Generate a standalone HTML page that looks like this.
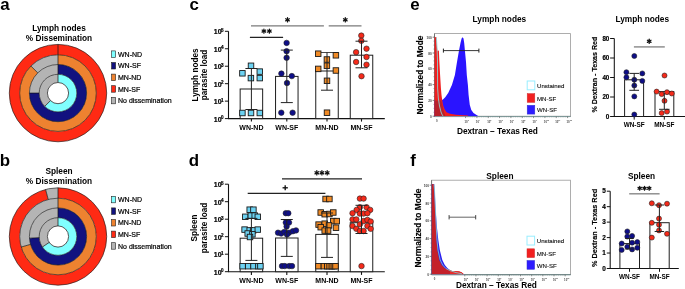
<!DOCTYPE html>
<html><head><meta charset="utf-8"><style>
html,body{margin:0;padding:0;background:#fff;width:685px;height:289px;overflow:hidden}
svg{display:block;will-change:transform}
text{font-family:"Liberation Sans", sans-serif}
</style></head><body>
<svg width="685" height="289" viewBox="0 0 685 289">
<rect width="685" height="289" fill="#fff"/>
<text x="0.3" y="9.6" font-size="15.8" font-weight="bold" text-anchor="start" fill="#000" textLength="9.40" lengthAdjust="spacingAndGlyphs">a</text>
<text x="59" y="30.8" font-size="8.3" font-weight="bold" text-anchor="middle" fill="#000">Lymph nodes</text>
<text x="59" y="40.6" font-size="8.3" font-weight="bold" text-anchor="middle" fill="#000">% Dissemination</text>
<path d="M9.299999999999997,93.1 a48.7,48.7 0 1 0 97.4,0 a48.7,48.7 0 1 0 -97.4,0 Z M19.700000000000003,93.1 a38.3,38.3 0 1 0 76.6,0 a38.3,38.3 0 1 0 -76.6,0 Z" fill="#FF2A14" fill-rule="evenodd"/>
<path d="M58.00,54.80 A38.3,38.3 0 1 1 30.92,66.02 L37.78,72.88 A28.6,28.6 0 1 0 58.00,64.50 Z" fill="#EE8230"/>
<path d="M30.92,66.02 A38.3,38.3 0 0 1 58.00,54.80 L58.00,64.50 A28.6,28.6 0 0 0 37.78,72.88 Z" fill="#B4B4B4"/>
<path d="M58.00,64.50 A28.6,28.6 0 1 1 29.40,93.10 L39.20,93.10 A18.8,18.8 0 1 0 58.00,74.30 Z" fill="#12127F"/>
<path d="M29.40,93.10 A28.6,28.6 0 0 1 58.00,64.50 L58.00,74.30 A18.8,18.8 0 0 0 39.20,93.10 Z" fill="#B4B4B4"/>
<path d="M58.00,74.30 A18.8,18.8 0 1 1 44.71,106.39 L50.50,100.60 A10.6,10.6 0 1 0 58.00,82.50 Z" fill="#80FFFF"/>
<path d="M44.71,106.39 A18.8,18.8 0 0 1 58.00,74.30 L58.00,82.50 A10.6,10.6 0 0 0 50.50,100.60 Z" fill="#B4B4B4"/>
<circle cx="58.0" cy="93.1" r="18.8" fill="none" stroke="#1a1a1a" stroke-width="0.65"/>
<circle cx="58.0" cy="93.1" r="28.6" fill="none" stroke="#1a1a1a" stroke-width="0.65"/>
<circle cx="58.0" cy="93.1" r="38.3" fill="none" stroke="#1a1a1a" stroke-width="0.65"/>
<circle cx="58.0" cy="93.1" r="48.7" fill="none" stroke="#1a1a1a" stroke-width="0.65"/>
<line x1="58.00" y1="54.80" x2="58.00" y2="44.40" stroke="#111" stroke-width="0.7"/>
<line x1="58.00" y1="64.50" x2="58.00" y2="54.80" stroke="#111" stroke-width="0.7"/>
<line x1="37.78" y1="72.88" x2="30.92" y2="66.02" stroke="#111" stroke-width="0.7"/>
<line x1="58.00" y1="74.30" x2="58.00" y2="64.50" stroke="#111" stroke-width="0.7"/>
<line x1="39.20" y1="93.10" x2="29.40" y2="93.10" stroke="#111" stroke-width="0.7"/>
<line x1="58.00" y1="82.50" x2="58.00" y2="74.30" stroke="#111" stroke-width="0.7"/>
<line x1="50.50" y1="100.60" x2="44.71" y2="106.39" stroke="#111" stroke-width="0.7"/>
<circle cx="58.0" cy="93.1" r="10.6" fill="#fff" stroke="#111" stroke-width="0.7"/>
<rect x="111.6" y="50.9" width="4.0" height="6.5" fill="#80FFFF" stroke="#222" stroke-width="0.6"/>
<text x="118.0" y="56.8" font-size="7" font-weight="normal" text-anchor="start" fill="#000" stroke="#000" stroke-width="0.2">WN-ND</text>
<rect x="111.6" y="62.5" width="4.0" height="6.5" fill="#12127F" stroke="#222" stroke-width="0.6"/>
<text x="118.0" y="68.4" font-size="7" font-weight="normal" text-anchor="start" fill="#000" stroke="#000" stroke-width="0.2">WN-SF</text>
<rect x="111.6" y="74.1" width="4.0" height="6.5" fill="#EE8230" stroke="#222" stroke-width="0.6"/>
<text x="118.0" y="80.0" font-size="7" font-weight="normal" text-anchor="start" fill="#000" stroke="#000" stroke-width="0.2">MN-ND</text>
<rect x="111.6" y="85.69999999999999" width="4.0" height="6.5" fill="#FF2A14" stroke="#222" stroke-width="0.6"/>
<text x="118.0" y="91.6" font-size="7" font-weight="normal" text-anchor="start" fill="#000" stroke="#000" stroke-width="0.2">MN-SF</text>
<rect x="111.6" y="97.3" width="4.0" height="6.5" fill="#B4B4B4" stroke="#222" stroke-width="0.6"/>
<text x="118.0" y="103.2" font-size="7" font-weight="normal" text-anchor="start" fill="#000" stroke="#000" stroke-width="0.2">No dissemination</text>
<text x="-0.3" y="165.5" font-size="15.8" font-weight="bold" text-anchor="start" fill="#000" textLength="10.33" lengthAdjust="spacingAndGlyphs">b</text>
<text x="59" y="174.2" font-size="8.3" font-weight="bold" text-anchor="middle" fill="#000">Spleen</text>
<text x="59" y="184.1" font-size="8.3" font-weight="bold" text-anchor="middle" fill="#000">% Dissemination</text>
<path d="M58.00,187.80 A48.7,48.7 0 1 1 45.56,189.42 L48.22,199.47 A38.3,38.3 0 1 0 58.00,198.20 Z" fill="#FF2A14"/>
<path d="M45.56,189.42 A48.7,48.7 0 0 1 58.00,187.80 L58.00,198.20 A38.3,38.3 0 0 0 48.22,199.47 Z" fill="#B4B4B4"/>
<path d="M58.00,198.20 A38.3,38.3 0 1 1 21.18,247.06 L30.51,244.38 A28.6,28.6 0 1 0 58.00,207.90 Z" fill="#EE8230"/>
<path d="M21.18,247.06 A38.3,38.3 0 0 1 58.00,198.20 L58.00,207.90 A28.6,28.6 0 0 0 30.51,244.38 Z" fill="#B4B4B4"/>
<path d="M58.00,207.90 A28.6,28.6 0 1 1 29.45,238.20 L39.23,237.61 A18.8,18.8 0 1 0 58.00,217.70 Z" fill="#12127F"/>
<path d="M29.45,238.20 A28.6,28.6 0 0 1 58.00,207.90 L58.00,217.70 A18.8,18.8 0 0 0 39.23,237.61 Z" fill="#B4B4B4"/>
<path d="M58.00,217.70 A18.8,18.8 0 1 1 42.41,247.01 L49.21,242.43 A10.6,10.6 0 1 0 58.00,225.90 Z" fill="#80FFFF"/>
<path d="M42.41,247.01 A18.8,18.8 0 0 1 58.00,217.70 L58.00,225.90 A10.6,10.6 0 0 0 49.21,242.43 Z" fill="#B4B4B4"/>
<circle cx="58.0" cy="236.5" r="18.8" fill="none" stroke="#1a1a1a" stroke-width="0.65"/>
<circle cx="58.0" cy="236.5" r="28.6" fill="none" stroke="#1a1a1a" stroke-width="0.65"/>
<circle cx="58.0" cy="236.5" r="38.3" fill="none" stroke="#1a1a1a" stroke-width="0.65"/>
<circle cx="58.0" cy="236.5" r="48.7" fill="none" stroke="#1a1a1a" stroke-width="0.65"/>
<line x1="58.00" y1="198.20" x2="58.00" y2="187.80" stroke="#111" stroke-width="0.7"/>
<line x1="48.22" y1="199.47" x2="45.56" y2="189.42" stroke="#111" stroke-width="0.7"/>
<line x1="58.00" y1="207.90" x2="58.00" y2="198.20" stroke="#111" stroke-width="0.7"/>
<line x1="30.51" y1="244.38" x2="21.18" y2="247.06" stroke="#111" stroke-width="0.7"/>
<line x1="58.00" y1="217.70" x2="58.00" y2="207.90" stroke="#111" stroke-width="0.7"/>
<line x1="39.23" y1="237.61" x2="29.45" y2="238.20" stroke="#111" stroke-width="0.7"/>
<line x1="58.00" y1="225.90" x2="58.00" y2="217.70" stroke="#111" stroke-width="0.7"/>
<line x1="49.21" y1="242.43" x2="42.41" y2="247.01" stroke="#111" stroke-width="0.7"/>
<circle cx="58.0" cy="236.5" r="10.6" fill="#fff" stroke="#111" stroke-width="0.7"/>
<rect x="111.6" y="196.3" width="4.0" height="6.5" fill="#80FFFF" stroke="#222" stroke-width="0.6"/>
<text x="118.0" y="202.20000000000002" font-size="7" font-weight="normal" text-anchor="start" fill="#000" stroke="#000" stroke-width="0.2">WN-ND</text>
<rect x="111.6" y="207.9" width="4.0" height="6.5" fill="#12127F" stroke="#222" stroke-width="0.6"/>
<text x="118.0" y="213.8" font-size="7" font-weight="normal" text-anchor="start" fill="#000" stroke="#000" stroke-width="0.2">WN-SF</text>
<rect x="111.6" y="219.5" width="4.0" height="6.5" fill="#EE8230" stroke="#222" stroke-width="0.6"/>
<text x="118.0" y="225.4" font-size="7" font-weight="normal" text-anchor="start" fill="#000" stroke="#000" stroke-width="0.2">MN-ND</text>
<rect x="111.6" y="231.10000000000002" width="4.0" height="6.5" fill="#FF2A14" stroke="#222" stroke-width="0.6"/>
<text x="118.0" y="237.00000000000003" font-size="7" font-weight="normal" text-anchor="start" fill="#000" stroke="#000" stroke-width="0.2">MN-SF</text>
<rect x="111.6" y="242.70000000000002" width="4.0" height="6.5" fill="#B4B4B4" stroke="#222" stroke-width="0.6"/>
<text x="118.0" y="248.60000000000002" font-size="7" font-weight="normal" text-anchor="start" fill="#000" stroke="#000" stroke-width="0.2">No dissemination</text>
<text x="189.5" y="9.6" font-size="15.8" font-weight="bold" text-anchor="start" fill="#000" textLength="9.40" lengthAdjust="spacingAndGlyphs">c</text>
<line x1="228.5" y1="31.299999999999983" x2="228.5" y2="118.6" stroke="#111" stroke-width="1.1"/>
<line x1="224.9" y1="118.6" x2="228.5" y2="118.6" stroke="#111" stroke-width="1.0"/>
<text x="221.6" y="121.5" font-size="7.0" font-weight="bold" text-anchor="end" fill="#000" stroke="#000" stroke-width="0.2">10</text>
<text x="221.1" y="119.0" font-size="4.6" font-weight="bold" text-anchor="start" fill="#000" stroke="#000" stroke-width="0.2">0</text>
<line x1="224.9" y1="101.13999999999999" x2="228.5" y2="101.13999999999999" stroke="#111" stroke-width="1.0"/>
<text x="221.6" y="104.03999999999999" font-size="7.0" font-weight="bold" text-anchor="end" fill="#000" stroke="#000" stroke-width="0.2">10</text>
<text x="221.1" y="101.53999999999999" font-size="4.6" font-weight="bold" text-anchor="start" fill="#000" stroke="#000" stroke-width="0.2">1</text>
<line x1="224.9" y1="83.67999999999999" x2="228.5" y2="83.67999999999999" stroke="#111" stroke-width="1.0"/>
<text x="221.6" y="86.58" font-size="7.0" font-weight="bold" text-anchor="end" fill="#000" stroke="#000" stroke-width="0.2">10</text>
<text x="221.1" y="84.08" font-size="4.6" font-weight="bold" text-anchor="start" fill="#000" stroke="#000" stroke-width="0.2">2</text>
<line x1="224.9" y1="66.22" x2="228.5" y2="66.22" stroke="#111" stroke-width="1.0"/>
<text x="221.6" y="69.12" font-size="7.0" font-weight="bold" text-anchor="end" fill="#000" stroke="#000" stroke-width="0.2">10</text>
<text x="221.1" y="66.62" font-size="4.6" font-weight="bold" text-anchor="start" fill="#000" stroke="#000" stroke-width="0.2">3</text>
<line x1="224.9" y1="48.75999999999999" x2="228.5" y2="48.75999999999999" stroke="#111" stroke-width="1.0"/>
<text x="221.6" y="51.65999999999999" font-size="7.0" font-weight="bold" text-anchor="end" fill="#000" stroke="#000" stroke-width="0.2">10</text>
<text x="221.1" y="49.15999999999999" font-size="4.6" font-weight="bold" text-anchor="start" fill="#000" stroke="#000" stroke-width="0.2">4</text>
<line x1="224.9" y1="31.299999999999983" x2="228.5" y2="31.299999999999983" stroke="#111" stroke-width="1.0"/>
<text x="221.6" y="34.19999999999998" font-size="7.0" font-weight="bold" text-anchor="end" fill="#000" stroke="#000" stroke-width="0.2">10</text>
<text x="221.1" y="31.69999999999998" font-size="4.6" font-weight="bold" text-anchor="start" fill="#000" stroke="#000" stroke-width="0.2">5</text>
<line x1="228.0" y1="118.6" x2="384.8" y2="118.6" stroke="#111" stroke-width="1.1"/>
<text x="197.7" y="74.94999999999999" font-size="8.2" font-weight="bold" text-anchor="middle" fill="#000" transform="rotate(-90 197.7 74.94999999999999)">Lymph nodes</text>
<text x="207.0" y="74.94999999999999" font-size="8.2" font-weight="bold" text-anchor="middle" fill="#000" transform="rotate(-90 207.0 74.94999999999999)">parasite load</text>
<line x1="251.4" y1="118.6" x2="251.4" y2="121.6" stroke="#111" stroke-width="1.1"/>
<text x="251.4" y="129.9" font-size="7" font-weight="bold" text-anchor="middle" fill="#000">WN-ND</text>
<line x1="286.8" y1="118.6" x2="286.8" y2="121.6" stroke="#111" stroke-width="1.1"/>
<text x="286.8" y="129.9" font-size="7" font-weight="bold" text-anchor="middle" fill="#000">WN-SF</text>
<line x1="327.0" y1="118.6" x2="327.0" y2="121.6" stroke="#111" stroke-width="1.1"/>
<text x="327.0" y="129.9" font-size="7" font-weight="bold" text-anchor="middle" fill="#000">MN-ND</text>
<line x1="361.5" y1="118.6" x2="361.5" y2="121.6" stroke="#111" stroke-width="1.1"/>
<text x="361.5" y="129.9" font-size="7" font-weight="bold" text-anchor="middle" fill="#000">MN-SF</text>
<rect x="240.15" y="89" width="22.5" height="29.599999999999994" fill="#fff" stroke="#1e1e1e" stroke-width="1.0"/>
<rect x="239.65" y="110.25" width="5.5" height="5.5" fill="#6CD2F2" stroke="#1a1a1a" stroke-width="0.9"/>
<rect x="248.25" y="110.25" width="5.5" height="5.5" fill="#6CD2F2" stroke="#1a1a1a" stroke-width="0.9"/>
<rect x="257.05" y="110.25" width="5.5" height="5.5" fill="#6CD2F2" stroke="#1a1a1a" stroke-width="0.9"/>
<rect x="248.25" y="63.05" width="5.5" height="5.5" fill="#6CD2F2" stroke="#1a1a1a" stroke-width="0.9"/>
<rect x="239.65" y="70.55" width="5.5" height="5.5" fill="#6CD2F2" stroke="#1a1a1a" stroke-width="0.9"/>
<rect x="248.15" y="75.35" width="5.5" height="5.5" fill="#6CD2F2" stroke="#1a1a1a" stroke-width="0.9"/>
<rect x="257.05" y="68.85" width="5.5" height="5.5" fill="#6CD2F2" stroke="#1a1a1a" stroke-width="0.9"/>
<rect x="257.05" y="75.35" width="5.5" height="5.5" fill="#6CD2F2" stroke="#1a1a1a" stroke-width="0.9"/>
<rect x="275.55" y="76.4" width="22.5" height="42.19999999999999" fill="#fff" stroke="#1e1e1e" stroke-width="1.0"/>
<circle cx="286.6" cy="42.9" r="2.75" fill="#0E0E88" stroke="#222" stroke-width="0.6"/>
<circle cx="286.6" cy="51.2" r="2.75" fill="#0E0E88" stroke="#222" stroke-width="0.6"/>
<circle cx="286.6" cy="57.8" r="2.75" fill="#0E0E88" stroke="#222" stroke-width="0.6"/>
<circle cx="281.4" cy="73.6" r="2.75" fill="#0E0E88" stroke="#222" stroke-width="0.6"/>
<circle cx="291.8" cy="76.1" r="2.75" fill="#0E0E88" stroke="#222" stroke-width="0.6"/>
<circle cx="287" cy="83" r="2.75" fill="#0E0E88" stroke="#222" stroke-width="0.6"/>
<circle cx="281.3" cy="112.7" r="2.75" fill="#0E0E88" stroke="#222" stroke-width="0.6"/>
<circle cx="292.6" cy="112.7" r="2.75" fill="#0E0E88" stroke="#222" stroke-width="0.6"/>
<rect x="315.75" y="71" width="22.5" height="47.599999999999994" fill="#fff" stroke="#1e1e1e" stroke-width="1.0"/>
<line x1="315.7" y1="52.5" x2="338.3" y2="52.5" stroke="#333" stroke-width="0.9"/>
<rect x="315.45" y="50.95" width="5.5" height="5.5" fill="#F08A25" stroke="#1a1a1a" stroke-width="0.9"/>
<rect x="333.15" y="52.55" width="5.5" height="5.5" fill="#F08A25" stroke="#1a1a1a" stroke-width="0.9"/>
<rect x="324.15" y="56.75" width="5.5" height="5.5" fill="#F08A25" stroke="#1a1a1a" stroke-width="0.9"/>
<rect x="324.15" y="62.95" width="5.5" height="5.5" fill="#F08A25" stroke="#1a1a1a" stroke-width="0.9"/>
<rect x="315.45" y="66.15" width="5.5" height="5.5" fill="#F08A25" stroke="#1a1a1a" stroke-width="0.9"/>
<rect x="333.15" y="67.75" width="5.5" height="5.5" fill="#F08A25" stroke="#1a1a1a" stroke-width="0.9"/>
<rect x="324.25" y="78.05" width="5.5" height="5.5" fill="#F08A25" stroke="#1a1a1a" stroke-width="0.9"/>
<rect x="324.25" y="109.95" width="5.5" height="5.5" fill="#F08A25" stroke="#1a1a1a" stroke-width="0.9"/>
<rect x="350.25" y="55.2" width="22.5" height="63.39999999999999" fill="#fff" stroke="#1e1e1e" stroke-width="1.0"/>
<circle cx="361.3" cy="35.6" r="2.75" fill="#F52A1A" stroke="#222" stroke-width="0.6"/>
<circle cx="361.3" cy="40.8" r="2.75" fill="#F52A1A" stroke="#222" stroke-width="0.6"/>
<circle cx="366.5" cy="48.7" r="2.75" fill="#F52A1A" stroke="#222" stroke-width="0.6"/>
<circle cx="356.1" cy="52.2" r="2.75" fill="#F52A1A" stroke="#222" stroke-width="0.6"/>
<circle cx="366.5" cy="57" r="2.75" fill="#F52A1A" stroke="#222" stroke-width="0.6"/>
<circle cx="356.1" cy="62" r="2.75" fill="#F52A1A" stroke="#222" stroke-width="0.6"/>
<circle cx="366.5" cy="64.7" r="2.75" fill="#F52A1A" stroke="#222" stroke-width="0.6"/>
<circle cx="361.5" cy="76.2" r="2.75" fill="#F52A1A" stroke="#222" stroke-width="0.6"/>
<line x1="251" y1="25.8" x2="323.9" y2="25.8" stroke="#7a7a7a" stroke-width="1.3"/>
<line x1="287.50" y1="17.73" x2="287.50" y2="21.88" stroke="#111" stroke-width="1.25" stroke-linecap="round"/>
<line x1="285.70" y1="18.76" x2="289.30" y2="20.84" stroke="#111" stroke-width="1.25" stroke-linecap="round"/>
<line x1="285.70" y1="20.84" x2="289.30" y2="18.76" stroke="#111" stroke-width="1.25" stroke-linecap="round"/>
<line x1="328.7" y1="25.8" x2="361.5" y2="25.8" stroke="#7a7a7a" stroke-width="1.3"/>
<line x1="345.30" y1="17.73" x2="345.30" y2="21.88" stroke="#111" stroke-width="1.25" stroke-linecap="round"/>
<line x1="343.50" y1="18.76" x2="347.10" y2="20.84" stroke="#111" stroke-width="1.25" stroke-linecap="round"/>
<line x1="343.50" y1="20.84" x2="347.10" y2="18.76" stroke="#111" stroke-width="1.25" stroke-linecap="round"/>
<line x1="249.9" y1="37.4" x2="283.1" y2="37.4" stroke="#222" stroke-width="1.1"/>
<line x1="263.90" y1="29.03" x2="263.90" y2="33.18" stroke="#111" stroke-width="1.25" stroke-linecap="round"/>
<line x1="262.10" y1="30.06" x2="265.70" y2="32.14" stroke="#111" stroke-width="1.25" stroke-linecap="round"/>
<line x1="262.10" y1="32.14" x2="265.70" y2="30.06" stroke="#111" stroke-width="1.25" stroke-linecap="round"/>
<line x1="269.40" y1="29.03" x2="269.40" y2="33.18" stroke="#111" stroke-width="1.25" stroke-linecap="round"/>
<line x1="267.60" y1="30.06" x2="271.20" y2="32.14" stroke="#111" stroke-width="1.25" stroke-linecap="round"/>
<line x1="267.60" y1="32.14" x2="271.20" y2="30.06" stroke="#111" stroke-width="1.25" stroke-linecap="round"/>
<text x="188.8" y="166.1" font-size="15.8" font-weight="bold" text-anchor="start" fill="#000" textLength="10.33" lengthAdjust="spacingAndGlyphs">d</text>
<line x1="228.5" y1="184.2" x2="228.5" y2="271.7" stroke="#111" stroke-width="1.1"/>
<line x1="224.9" y1="271.7" x2="228.5" y2="271.7" stroke="#111" stroke-width="1.0"/>
<text x="221.6" y="274.59999999999997" font-size="7.0" font-weight="bold" text-anchor="end" fill="#000" stroke="#000" stroke-width="0.2">10</text>
<text x="221.1" y="272.09999999999997" font-size="4.6" font-weight="bold" text-anchor="start" fill="#000" stroke="#000" stroke-width="0.2">0</text>
<line x1="224.9" y1="254.2" x2="228.5" y2="254.2" stroke="#111" stroke-width="1.0"/>
<text x="221.6" y="257.09999999999997" font-size="7.0" font-weight="bold" text-anchor="end" fill="#000" stroke="#000" stroke-width="0.2">10</text>
<text x="221.1" y="254.6" font-size="4.6" font-weight="bold" text-anchor="start" fill="#000" stroke="#000" stroke-width="0.2">1</text>
<line x1="224.9" y1="236.7" x2="228.5" y2="236.7" stroke="#111" stroke-width="1.0"/>
<text x="221.6" y="239.6" font-size="7.0" font-weight="bold" text-anchor="end" fill="#000" stroke="#000" stroke-width="0.2">10</text>
<text x="221.1" y="237.1" font-size="4.6" font-weight="bold" text-anchor="start" fill="#000" stroke="#000" stroke-width="0.2">2</text>
<line x1="224.9" y1="219.2" x2="228.5" y2="219.2" stroke="#111" stroke-width="1.0"/>
<text x="221.6" y="222.1" font-size="7.0" font-weight="bold" text-anchor="end" fill="#000" stroke="#000" stroke-width="0.2">10</text>
<text x="221.1" y="219.6" font-size="4.6" font-weight="bold" text-anchor="start" fill="#000" stroke="#000" stroke-width="0.2">3</text>
<line x1="224.9" y1="201.7" x2="228.5" y2="201.7" stroke="#111" stroke-width="1.0"/>
<text x="221.6" y="204.6" font-size="7.0" font-weight="bold" text-anchor="end" fill="#000" stroke="#000" stroke-width="0.2">10</text>
<text x="221.1" y="202.1" font-size="4.6" font-weight="bold" text-anchor="start" fill="#000" stroke="#000" stroke-width="0.2">4</text>
<line x1="224.9" y1="184.2" x2="228.5" y2="184.2" stroke="#111" stroke-width="1.0"/>
<text x="221.6" y="187.1" font-size="7.0" font-weight="bold" text-anchor="end" fill="#000" stroke="#000" stroke-width="0.2">10</text>
<text x="221.1" y="184.6" font-size="4.6" font-weight="bold" text-anchor="start" fill="#000" stroke="#000" stroke-width="0.2">5</text>
<line x1="228.0" y1="271.7" x2="384.8" y2="271.7" stroke="#111" stroke-width="1.1"/>
<text x="197.3" y="227.95" font-size="8.2" font-weight="bold" text-anchor="middle" fill="#000" transform="rotate(-90 197.3 227.95)">Spleen</text>
<text x="206.60000000000002" y="227.95" font-size="8.2" font-weight="bold" text-anchor="middle" fill="#000" transform="rotate(-90 206.60000000000002 227.95)">parasite load</text>
<line x1="251.4" y1="271.7" x2="251.4" y2="274.9" stroke="#111" stroke-width="1.1"/>
<text x="251.4" y="283.0" font-size="7" font-weight="bold" text-anchor="middle" fill="#000">WN-ND</text>
<line x1="286.8" y1="271.7" x2="286.8" y2="274.9" stroke="#111" stroke-width="1.1"/>
<text x="286.8" y="283.0" font-size="7" font-weight="bold" text-anchor="middle" fill="#000">WN-SF</text>
<line x1="327.0" y1="271.7" x2="327.0" y2="274.9" stroke="#111" stroke-width="1.1"/>
<text x="327.0" y="283.0" font-size="7" font-weight="bold" text-anchor="middle" fill="#000">MN-ND</text>
<line x1="361.5" y1="271.7" x2="361.5" y2="274.9" stroke="#111" stroke-width="1.1"/>
<text x="361.5" y="283.0" font-size="7" font-weight="bold" text-anchor="middle" fill="#000">MN-SF</text>
<rect x="240.15" y="238.2" width="22.5" height="33.5" fill="#fff" stroke="#1e1e1e" stroke-width="1.0"/>
<rect x="239.85" y="263.45" width="5.5" height="5.5" fill="#6CD2F2" stroke="#1a1a1a" stroke-width="0.9"/>
<rect x="245.45" y="263.45" width="5.5" height="5.5" fill="#6CD2F2" stroke="#1a1a1a" stroke-width="0.9"/>
<rect x="250.75" y="263.45" width="5.5" height="5.5" fill="#6CD2F2" stroke="#1a1a1a" stroke-width="0.9"/>
<rect x="255.64999999999998" y="263.45" width="5.5" height="5.5" fill="#6CD2F2" stroke="#1a1a1a" stroke-width="0.9"/>
<rect x="257.65" y="263.45" width="5.5" height="5.5" fill="#6CD2F2" stroke="#1a1a1a" stroke-width="0.9"/>
<rect x="246.95" y="206.95" width="5.5" height="5.5" fill="#6CD2F2" stroke="#1a1a1a" stroke-width="0.9"/>
<rect x="250.65" y="206.95" width="5.5" height="5.5" fill="#6CD2F2" stroke="#1a1a1a" stroke-width="0.9"/>
<rect x="242.55" y="214.05" width="5.5" height="5.5" fill="#6CD2F2" stroke="#1a1a1a" stroke-width="0.9"/>
<rect x="248.05" y="212.85" width="5.5" height="5.5" fill="#6CD2F2" stroke="#1a1a1a" stroke-width="0.9"/>
<rect x="251.95" y="212.85" width="5.5" height="5.5" fill="#6CD2F2" stroke="#1a1a1a" stroke-width="0.9"/>
<rect x="255.05" y="214.05" width="5.5" height="5.5" fill="#6CD2F2" stroke="#1a1a1a" stroke-width="0.9"/>
<rect x="241.85" y="226.85" width="5.5" height="5.5" fill="#6CD2F2" stroke="#1a1a1a" stroke-width="0.9"/>
<rect x="246.95" y="227.65" width="5.5" height="5.5" fill="#6CD2F2" stroke="#1a1a1a" stroke-width="0.9"/>
<rect x="250.35" y="227.65" width="5.5" height="5.5" fill="#6CD2F2" stroke="#1a1a1a" stroke-width="0.9"/>
<rect x="255.05" y="226.85" width="5.5" height="5.5" fill="#6CD2F2" stroke="#1a1a1a" stroke-width="0.9"/>
<rect x="244.95" y="230.75" width="5.5" height="5.5" fill="#6CD2F2" stroke="#1a1a1a" stroke-width="0.9"/>
<rect x="249.65" y="231.55" width="5.5" height="5.5" fill="#6CD2F2" stroke="#1a1a1a" stroke-width="0.9"/>
<rect x="247.25" y="234.25" width="5.5" height="5.5" fill="#6CD2F2" stroke="#1a1a1a" stroke-width="0.9"/>
<rect x="275.55" y="238.0" width="22.5" height="33.69999999999999" fill="#fff" stroke="#1e1e1e" stroke-width="1.0"/>
<circle cx="282.0" cy="266.1" r="2.75" fill="#0E0E88" stroke="#222" stroke-width="0.6"/>
<circle cx="284.8" cy="266.1" r="2.75" fill="#0E0E88" stroke="#222" stroke-width="0.6"/>
<circle cx="289.2" cy="266.1" r="2.75" fill="#0E0E88" stroke="#222" stroke-width="0.6"/>
<circle cx="292.0" cy="266.1" r="2.75" fill="#0E0E88" stroke="#222" stroke-width="0.6"/>
<circle cx="285.8" cy="213.2" r="2.75" fill="#0E0E88" stroke="#222" stroke-width="0.6"/>
<circle cx="288.3" cy="213.2" r="2.75" fill="#0E0E88" stroke="#222" stroke-width="0.6"/>
<circle cx="285.8" cy="222.6" r="2.75" fill="#0E0E88" stroke="#222" stroke-width="0.6"/>
<circle cx="289.0" cy="222.6" r="2.75" fill="#0E0E88" stroke="#222" stroke-width="0.6"/>
<circle cx="286.6" cy="226.5" r="2.75" fill="#0E0E88" stroke="#222" stroke-width="0.6"/>
<circle cx="278.0" cy="232.7" r="2.75" fill="#0E0E88" stroke="#222" stroke-width="0.6"/>
<circle cx="281.2" cy="233.5" r="2.75" fill="#0E0E88" stroke="#222" stroke-width="0.6"/>
<circle cx="284.3" cy="231.9" r="2.75" fill="#0E0E88" stroke="#222" stroke-width="0.6"/>
<circle cx="289.0" cy="232.7" r="2.75" fill="#0E0E88" stroke="#222" stroke-width="0.6"/>
<circle cx="292.9" cy="231.2" r="2.75" fill="#0E0E88" stroke="#222" stroke-width="0.6"/>
<circle cx="296.0" cy="230.4" r="2.75" fill="#0E0E88" stroke="#222" stroke-width="0.6"/>
<circle cx="287.0" cy="234.5" r="2.75" fill="#0E0E88" stroke="#222" stroke-width="0.6"/>
<rect x="315.75" y="234.4" width="22.5" height="37.29999999999998" fill="#fff" stroke="#1e1e1e" stroke-width="1.0"/>
<rect x="315.65" y="263.45" width="5.5" height="5.5" fill="#F08A25" stroke="#1a1a1a" stroke-width="0.9"/>
<rect x="321.15" y="263.45" width="5.5" height="5.5" fill="#F08A25" stroke="#1a1a1a" stroke-width="0.9"/>
<rect x="324.45" y="263.45" width="5.5" height="5.5" fill="#F08A25" stroke="#1a1a1a" stroke-width="0.9"/>
<rect x="326.85" y="263.45" width="5.5" height="5.5" fill="#F08A25" stroke="#1a1a1a" stroke-width="0.9"/>
<rect x="329.05" y="263.45" width="5.5" height="5.5" fill="#F08A25" stroke="#1a1a1a" stroke-width="0.9"/>
<rect x="331.05" y="263.45" width="5.5" height="5.5" fill="#F08A25" stroke="#1a1a1a" stroke-width="0.9"/>
<rect x="332.75" y="263.45" width="5.5" height="5.5" fill="#F08A25" stroke="#1a1a1a" stroke-width="0.9"/>
<rect x="322.85" y="196.25" width="5.5" height="5.5" fill="#F08A25" stroke="#1a1a1a" stroke-width="0.9"/>
<rect x="326.65" y="196.25" width="5.5" height="5.5" fill="#F08A25" stroke="#1a1a1a" stroke-width="0.9"/>
<rect x="317.95" y="209.75" width="5.5" height="5.5" fill="#F08A25" stroke="#1a1a1a" stroke-width="0.9"/>
<rect x="321.95" y="211.45" width="5.5" height="5.5" fill="#F08A25" stroke="#1a1a1a" stroke-width="0.9"/>
<rect x="326.65" y="211.25" width="5.5" height="5.5" fill="#F08A25" stroke="#1a1a1a" stroke-width="0.9"/>
<rect x="330.55" y="209.75" width="5.5" height="5.5" fill="#F08A25" stroke="#1a1a1a" stroke-width="0.9"/>
<rect x="330.55" y="218.35" width="5.5" height="5.5" fill="#F08A25" stroke="#1a1a1a" stroke-width="0.9"/>
<rect x="334.05" y="218.35" width="5.5" height="5.5" fill="#F08A25" stroke="#1a1a1a" stroke-width="0.9"/>
<rect x="315.85" y="221.85" width="5.5" height="5.5" fill="#F08A25" stroke="#1a1a1a" stroke-width="0.9"/>
<rect x="321.95" y="220.95" width="5.5" height="5.5" fill="#F08A25" stroke="#1a1a1a" stroke-width="0.9"/>
<rect x="326.25" y="222.65" width="5.5" height="5.5" fill="#F08A25" stroke="#1a1a1a" stroke-width="0.9"/>
<rect x="333.25" y="224.95" width="5.5" height="5.5" fill="#F08A25" stroke="#1a1a1a" stroke-width="0.9"/>
<rect x="317.95" y="224.45" width="5.5" height="5.5" fill="#F08A25" stroke="#1a1a1a" stroke-width="0.9"/>
<rect x="321.95" y="227.85" width="5.5" height="5.5" fill="#F08A25" stroke="#1a1a1a" stroke-width="0.9"/>
<rect x="325.35" y="227.85" width="5.5" height="5.5" fill="#F08A25" stroke="#1a1a1a" stroke-width="0.9"/>
<rect x="350.25" y="222.7" width="22.5" height="49.0" fill="#fff" stroke="#1e1e1e" stroke-width="1.0"/>
<circle cx="359.9" cy="198.6" r="2.75" fill="#F52A1A" stroke="#222" stroke-width="0.6"/>
<circle cx="363.6" cy="198.6" r="2.75" fill="#F52A1A" stroke="#222" stroke-width="0.6"/>
<circle cx="361.5" cy="266.1" r="2.75" fill="#F52A1A" stroke="#222" stroke-width="0.6"/>
<circle cx="359.9" cy="207.3" r="2.75" fill="#F52A1A" stroke="#222" stroke-width="0.6"/>
<circle cx="366.6" cy="207.3" r="2.75" fill="#F52A1A" stroke="#222" stroke-width="0.6"/>
<circle cx="356.6" cy="209.9" r="2.75" fill="#F52A1A" stroke="#222" stroke-width="0.6"/>
<circle cx="370.2" cy="209.9" r="2.75" fill="#F52A1A" stroke="#222" stroke-width="0.6"/>
<circle cx="352.5" cy="213.2" r="2.75" fill="#F52A1A" stroke="#222" stroke-width="0.6"/>
<circle cx="359.9" cy="213.6" r="2.75" fill="#F52A1A" stroke="#222" stroke-width="0.6"/>
<circle cx="363.6" cy="213.6" r="2.75" fill="#F52A1A" stroke="#222" stroke-width="0.6"/>
<circle cx="367.4" cy="213.2" r="2.75" fill="#F52A1A" stroke="#222" stroke-width="0.6"/>
<circle cx="352.5" cy="219.4" r="2.75" fill="#F52A1A" stroke="#222" stroke-width="0.6"/>
<circle cx="356.3" cy="219.4" r="2.75" fill="#F52A1A" stroke="#222" stroke-width="0.6"/>
<circle cx="363.6" cy="221.0" r="2.75" fill="#F52A1A" stroke="#222" stroke-width="0.6"/>
<circle cx="367.4" cy="219.9" r="2.75" fill="#F52A1A" stroke="#222" stroke-width="0.6"/>
<circle cx="370.7" cy="221.5" r="2.75" fill="#F52A1A" stroke="#222" stroke-width="0.6"/>
<circle cx="352.5" cy="226.0" r="2.75" fill="#F52A1A" stroke="#222" stroke-width="0.6"/>
<circle cx="359.9" cy="224.3" r="2.75" fill="#F52A1A" stroke="#222" stroke-width="0.6"/>
<circle cx="367.4" cy="226.0" r="2.75" fill="#F52A1A" stroke="#222" stroke-width="0.6"/>
<circle cx="356.3" cy="228.8" r="2.75" fill="#F52A1A" stroke="#222" stroke-width="0.6"/>
<circle cx="359.9" cy="231.0" r="2.75" fill="#F52A1A" stroke="#222" stroke-width="0.6"/>
<circle cx="363.6" cy="231.0" r="2.75" fill="#F52A1A" stroke="#222" stroke-width="0.6"/>
<circle cx="370.7" cy="228.8" r="2.75" fill="#F52A1A" stroke="#222" stroke-width="0.6"/>
<line x1="282" y1="178.8" x2="362" y2="178.8" stroke="#222" stroke-width="1.2"/>
<line x1="316.80" y1="170.73" x2="316.80" y2="174.88" stroke="#111" stroke-width="1.25" stroke-linecap="round"/>
<line x1="315.00" y1="171.76" x2="318.60" y2="173.84" stroke="#111" stroke-width="1.25" stroke-linecap="round"/>
<line x1="315.00" y1="173.84" x2="318.60" y2="171.76" stroke="#111" stroke-width="1.25" stroke-linecap="round"/>
<line x1="321.90" y1="170.73" x2="321.90" y2="174.88" stroke="#111" stroke-width="1.25" stroke-linecap="round"/>
<line x1="320.10" y1="171.76" x2="323.70" y2="173.84" stroke="#111" stroke-width="1.25" stroke-linecap="round"/>
<line x1="320.10" y1="173.84" x2="323.70" y2="171.76" stroke="#111" stroke-width="1.25" stroke-linecap="round"/>
<line x1="327.20" y1="170.73" x2="327.20" y2="174.88" stroke="#111" stroke-width="1.25" stroke-linecap="round"/>
<line x1="325.40" y1="171.76" x2="329.00" y2="173.84" stroke="#111" stroke-width="1.25" stroke-linecap="round"/>
<line x1="325.40" y1="173.84" x2="329.00" y2="171.76" stroke="#111" stroke-width="1.25" stroke-linecap="round"/>
<line x1="247.7" y1="193.3" x2="325.4" y2="193.3" stroke="#222" stroke-width="1.2"/>
<line x1="282.55" y1="187.8" x2="287.85" y2="187.8" stroke="#111" stroke-width="1.35"/>
<line x1="285.2" y1="185.35" x2="285.2" y2="190.25" stroke="#111" stroke-width="1.35"/>
<text x="410.2" y="9.6" font-size="15.8" font-weight="bold" text-anchor="start" fill="#000" textLength="9.40" lengthAdjust="spacingAndGlyphs">e</text>
<rect x="434.5" y="33.6" width="136.0" height="82.80000000000001" fill="none" stroke="#999" stroke-width="0.8"/>
<line x1="434.5" y1="33.6" x2="434.5" y2="116.4" stroke="#666" stroke-width="0.8"/>
<line x1="434.5" y1="116.4" x2="570.5" y2="116.4" stroke="#444" stroke-width="0.9"/>
<text x="431.9" y="38.800000000000004" font-size="3.2" font-weight="bold" text-anchor="end" fill="#444">100</text>
<line x1="432.5" y1="37.2" x2="434.5" y2="37.2" stroke="#555" stroke-width="0.6"/>
<text x="431.9" y="54.6" font-size="3.2" font-weight="bold" text-anchor="end" fill="#444">80</text>
<line x1="432.5" y1="53.0" x2="434.5" y2="53.0" stroke="#555" stroke-width="0.6"/>
<text x="431.9" y="70.4" font-size="3.2" font-weight="bold" text-anchor="end" fill="#444">60</text>
<line x1="432.5" y1="68.80000000000001" x2="434.5" y2="68.80000000000001" stroke="#555" stroke-width="0.6"/>
<text x="431.9" y="86.19999999999999" font-size="3.2" font-weight="bold" text-anchor="end" fill="#444">40</text>
<line x1="432.5" y1="84.6" x2="434.5" y2="84.6" stroke="#555" stroke-width="0.6"/>
<text x="431.9" y="102.0" font-size="3.2" font-weight="bold" text-anchor="end" fill="#444">20</text>
<line x1="432.5" y1="100.4" x2="434.5" y2="100.4" stroke="#555" stroke-width="0.6"/>
<text x="431.9" y="117.8" font-size="3.2" font-weight="bold" text-anchor="end" fill="#444">0</text>
<line x1="432.5" y1="116.2" x2="434.5" y2="116.2" stroke="#555" stroke-width="0.6"/>
<line x1="433.5" y1="37.2" x2="434.5" y2="37.2" stroke="#555" stroke-width="0.5"/>
<line x1="433.5" y1="41.150000000000006" x2="434.5" y2="41.150000000000006" stroke="#555" stroke-width="0.5"/>
<line x1="433.5" y1="45.1" x2="434.5" y2="45.1" stroke="#555" stroke-width="0.5"/>
<line x1="433.5" y1="49.050000000000004" x2="434.5" y2="49.050000000000004" stroke="#555" stroke-width="0.5"/>
<line x1="433.5" y1="53.0" x2="434.5" y2="53.0" stroke="#555" stroke-width="0.5"/>
<line x1="433.5" y1="56.95" x2="434.5" y2="56.95" stroke="#555" stroke-width="0.5"/>
<line x1="433.5" y1="60.900000000000006" x2="434.5" y2="60.900000000000006" stroke="#555" stroke-width="0.5"/>
<line x1="433.5" y1="64.85" x2="434.5" y2="64.85" stroke="#555" stroke-width="0.5"/>
<line x1="433.5" y1="68.80000000000001" x2="434.5" y2="68.80000000000001" stroke="#555" stroke-width="0.5"/>
<line x1="433.5" y1="72.75" x2="434.5" y2="72.75" stroke="#555" stroke-width="0.5"/>
<line x1="433.5" y1="76.7" x2="434.5" y2="76.7" stroke="#555" stroke-width="0.5"/>
<line x1="433.5" y1="80.65" x2="434.5" y2="80.65" stroke="#555" stroke-width="0.5"/>
<line x1="433.5" y1="84.6" x2="434.5" y2="84.6" stroke="#555" stroke-width="0.5"/>
<line x1="433.5" y1="88.55000000000001" x2="434.5" y2="88.55000000000001" stroke="#555" stroke-width="0.5"/>
<line x1="433.5" y1="92.5" x2="434.5" y2="92.5" stroke="#555" stroke-width="0.5"/>
<line x1="433.5" y1="96.45" x2="434.5" y2="96.45" stroke="#555" stroke-width="0.5"/>
<line x1="433.5" y1="100.4" x2="434.5" y2="100.4" stroke="#555" stroke-width="0.5"/>
<line x1="433.5" y1="104.35000000000001" x2="434.5" y2="104.35000000000001" stroke="#555" stroke-width="0.5"/>
<line x1="433.5" y1="108.3" x2="434.5" y2="108.3" stroke="#555" stroke-width="0.5"/>
<line x1="433.5" y1="112.25" x2="434.5" y2="112.25" stroke="#555" stroke-width="0.5"/>
<line x1="433.5" y1="116.2" x2="434.5" y2="116.2" stroke="#555" stroke-width="0.5"/>
<text x="472.6" y="22.4" font-size="8.3" font-weight="bold" text-anchor="start" fill="#000">Lymph nodes</text>
<polygon points="434.60,116.40 434.60,100.40 442.70,99.80 445.20,97.30 448.20,93.00 451.90,85.00 454.90,75.00 457.00,62.00 459.00,50.60 460.50,43.00 461.60,38.60 462.60,37.30 463.50,38.40 464.20,43.00 464.90,50.60 466.00,62.00 466.80,75.00 467.90,85.00 468.60,95.00 469.80,105.00 471.30,110.00 473.50,113.00 477.30,115.60 479.00,116.40" fill="#2A14FF" />
<clipPath id="cre"><polygon points="434.60,116.40 434.60,37.20 436.30,37.10 437.00,47.50 437.40,51.50 437.90,50.50 438.90,50.70 439.30,60.00 440.10,75.00 440.90,88.00 441.50,95.00 442.20,100.00 443.00,105.00 444.50,109.00 446.50,112.30 450.00,113.80 456.00,114.80 468.00,115.60 468.50,116.40"/></clipPath>
<polygon points="434.60,116.40 434.60,37.20 436.30,37.10 437.00,47.50 437.40,51.50 437.90,50.50 438.90,50.70 439.30,60.00 440.10,75.00 440.90,88.00 441.50,95.00 442.20,100.00 443.00,105.00 444.50,109.00 446.50,112.30 450.00,113.80 456.00,114.80 468.00,115.60 468.50,116.40" fill="#F01E1E" />
<polygon points="434,100.4 441.2,100.4 442.6,106 443.8,111 445.5,116.4 434,116.4" fill="#B9202A" clip-path="url(#cre)"/>
<polyline points="436.40,37.50 437.00,48.00 437.50,60.00 437.60,88.00 438.30,98.00 439.50,106.00 441.00,112.00 442.50,115.50 443.50,116.20" fill="none" stroke="#8CCFD0" stroke-width="0.9"/>
<line x1="443.4" y1="50.6" x2="478.9" y2="50.6" stroke="#222" stroke-width="0.9"/>
<line x1="443.4" y1="48.6" x2="443.4" y2="52.6" stroke="#222" stroke-width="1.0"/>
<line x1="478.9" y1="48.6" x2="478.9" y2="52.6" stroke="#222" stroke-width="1.0"/>
<line x1="434.6" y1="116.6" x2="570.5" y2="116.6" stroke="#8aa" stroke-width="0.9"/>
<text x="436.8" y="121.6" font-size="2.8" font-weight="bold" text-anchor="middle" fill="#444">0</text>
<line x1="465.6" y1="116.6" x2="465.6" y2="118.1" stroke="#444" stroke-width="0.6"/>
<text x="466.1" y="122.5" font-size="2.8" font-weight="bold" text-anchor="middle" fill="#444">10</text>
<text x="467.70000000000005" y="120.69999999999999" font-size="1.9" font-weight="bold" text-anchor="start" fill="#444">3</text>
<line x1="467.86600000000004" y1="116.6" x2="467.86600000000004" y2="117.39999999999999" stroke="#777" stroke-width="0.4"/>
<line x1="470.132" y1="116.6" x2="470.132" y2="117.39999999999999" stroke="#777" stroke-width="0.4"/>
<line x1="472.398" y1="116.6" x2="472.398" y2="117.39999999999999" stroke="#777" stroke-width="0.4"/>
<line x1="474.664" y1="116.6" x2="474.664" y2="117.39999999999999" stroke="#777" stroke-width="0.4"/>
<line x1="476.93" y1="116.6" x2="476.93" y2="118.1" stroke="#444" stroke-width="0.6"/>
<text x="477.43" y="122.5" font-size="2.8" font-weight="bold" text-anchor="middle" fill="#444">10</text>
<text x="479.03000000000003" y="120.69999999999999" font-size="1.9" font-weight="bold" text-anchor="start" fill="#444">4</text>
<line x1="479.196" y1="116.6" x2="479.196" y2="117.39999999999999" stroke="#777" stroke-width="0.4"/>
<line x1="481.462" y1="116.6" x2="481.462" y2="117.39999999999999" stroke="#777" stroke-width="0.4"/>
<line x1="483.728" y1="116.6" x2="483.728" y2="117.39999999999999" stroke="#777" stroke-width="0.4"/>
<line x1="485.99399999999997" y1="116.6" x2="485.99399999999997" y2="117.39999999999999" stroke="#777" stroke-width="0.4"/>
<line x1="488.26000000000005" y1="116.6" x2="488.26000000000005" y2="118.1" stroke="#444" stroke-width="0.6"/>
<text x="488.76000000000005" y="122.5" font-size="2.8" font-weight="bold" text-anchor="middle" fill="#444">10</text>
<text x="490.36000000000007" y="120.69999999999999" font-size="1.9" font-weight="bold" text-anchor="start" fill="#444">5</text>
<line x1="490.52600000000007" y1="116.6" x2="490.52600000000007" y2="117.39999999999999" stroke="#777" stroke-width="0.4"/>
<line x1="492.79200000000003" y1="116.6" x2="492.79200000000003" y2="117.39999999999999" stroke="#777" stroke-width="0.4"/>
<line x1="495.05800000000005" y1="116.6" x2="495.05800000000005" y2="117.39999999999999" stroke="#777" stroke-width="0.4"/>
<line x1="497.324" y1="116.6" x2="497.324" y2="117.39999999999999" stroke="#777" stroke-width="0.4"/>
<line x1="499.59000000000003" y1="116.6" x2="499.59000000000003" y2="118.1" stroke="#444" stroke-width="0.6"/>
<text x="500.09000000000003" y="122.5" font-size="2.8" font-weight="bold" text-anchor="middle" fill="#444">10</text>
<text x="501.69000000000005" y="120.69999999999999" font-size="1.9" font-weight="bold" text-anchor="start" fill="#444">6</text>
<line x1="501.85600000000005" y1="116.6" x2="501.85600000000005" y2="117.39999999999999" stroke="#777" stroke-width="0.4"/>
<line x1="504.122" y1="116.6" x2="504.122" y2="117.39999999999999" stroke="#777" stroke-width="0.4"/>
<line x1="506.38800000000003" y1="116.6" x2="506.38800000000003" y2="117.39999999999999" stroke="#777" stroke-width="0.4"/>
<line x1="508.654" y1="116.6" x2="508.654" y2="117.39999999999999" stroke="#777" stroke-width="0.4"/>
<line x1="510.92" y1="116.6" x2="510.92" y2="118.1" stroke="#444" stroke-width="0.6"/>
<text x="511.42" y="122.5" font-size="2.8" font-weight="bold" text-anchor="middle" fill="#444">10</text>
<text x="513.02" y="120.69999999999999" font-size="1.9" font-weight="bold" text-anchor="start" fill="#444">7</text>
<line x1="513.186" y1="116.6" x2="513.186" y2="117.39999999999999" stroke="#777" stroke-width="0.4"/>
<line x1="515.452" y1="116.6" x2="515.452" y2="117.39999999999999" stroke="#777" stroke-width="0.4"/>
<line x1="517.718" y1="116.6" x2="517.718" y2="117.39999999999999" stroke="#777" stroke-width="0.4"/>
<line x1="519.984" y1="116.6" x2="519.984" y2="117.39999999999999" stroke="#777" stroke-width="0.4"/>
<line x1="522.25" y1="116.6" x2="522.25" y2="118.1" stroke="#444" stroke-width="0.6"/>
<text x="522.75" y="122.5" font-size="2.8" font-weight="bold" text-anchor="middle" fill="#444">10</text>
<text x="524.35" y="120.69999999999999" font-size="1.9" font-weight="bold" text-anchor="start" fill="#444">8</text>
<line x1="524.516" y1="116.6" x2="524.516" y2="117.39999999999999" stroke="#777" stroke-width="0.4"/>
<line x1="526.782" y1="116.6" x2="526.782" y2="117.39999999999999" stroke="#777" stroke-width="0.4"/>
<line x1="529.048" y1="116.6" x2="529.048" y2="117.39999999999999" stroke="#777" stroke-width="0.4"/>
<line x1="531.314" y1="116.6" x2="531.314" y2="117.39999999999999" stroke="#777" stroke-width="0.4"/>
<line x1="533.58" y1="116.6" x2="533.58" y2="118.1" stroke="#444" stroke-width="0.6"/>
<text x="534.08" y="122.5" font-size="2.8" font-weight="bold" text-anchor="middle" fill="#444">10</text>
<text x="535.6800000000001" y="120.69999999999999" font-size="1.9" font-weight="bold" text-anchor="start" fill="#444">9</text>
<line x1="535.846" y1="116.6" x2="535.846" y2="117.39999999999999" stroke="#777" stroke-width="0.4"/>
<line x1="538.1120000000001" y1="116.6" x2="538.1120000000001" y2="117.39999999999999" stroke="#777" stroke-width="0.4"/>
<line x1="540.378" y1="116.6" x2="540.378" y2="117.39999999999999" stroke="#777" stroke-width="0.4"/>
<line x1="542.644" y1="116.6" x2="542.644" y2="117.39999999999999" stroke="#777" stroke-width="0.4"/>
<line x1="544.9100000000001" y1="116.6" x2="544.9100000000001" y2="118.1" stroke="#444" stroke-width="0.6"/>
<text x="545.4100000000001" y="122.5" font-size="2.8" font-weight="bold" text-anchor="middle" fill="#444">10</text>
<text x="547.0100000000001" y="120.69999999999999" font-size="1.9" font-weight="bold" text-anchor="start" fill="#444">10</text>
<line x1="547.176" y1="116.6" x2="547.176" y2="117.39999999999999" stroke="#777" stroke-width="0.4"/>
<line x1="549.4420000000001" y1="116.6" x2="549.4420000000001" y2="117.39999999999999" stroke="#777" stroke-width="0.4"/>
<line x1="551.7080000000001" y1="116.6" x2="551.7080000000001" y2="117.39999999999999" stroke="#777" stroke-width="0.4"/>
<line x1="553.974" y1="116.6" x2="553.974" y2="117.39999999999999" stroke="#777" stroke-width="0.4"/>
<line x1="556.24" y1="116.6" x2="556.24" y2="118.1" stroke="#444" stroke-width="0.6"/>
<text x="556.74" y="122.5" font-size="2.8" font-weight="bold" text-anchor="middle" fill="#444">10</text>
<text x="558.34" y="120.69999999999999" font-size="1.9" font-weight="bold" text-anchor="start" fill="#444">11</text>
<line x1="558.506" y1="116.6" x2="558.506" y2="117.39999999999999" stroke="#777" stroke-width="0.4"/>
<line x1="560.772" y1="116.6" x2="560.772" y2="117.39999999999999" stroke="#777" stroke-width="0.4"/>
<line x1="563.038" y1="116.6" x2="563.038" y2="117.39999999999999" stroke="#777" stroke-width="0.4"/>
<line x1="565.304" y1="116.6" x2="565.304" y2="117.39999999999999" stroke="#777" stroke-width="0.4"/>
<line x1="567.57" y1="116.6" x2="567.57" y2="118.1" stroke="#444" stroke-width="0.6"/>
<text x="568.07" y="122.5" font-size="2.8" font-weight="bold" text-anchor="middle" fill="#444">10</text>
<text x="569.6700000000001" y="120.69999999999999" font-size="1.9" font-weight="bold" text-anchor="start" fill="#444">12</text>
<text x="422.9" y="75.1" font-size="8.3" font-weight="bold" text-anchor="middle" fill="#000" transform="rotate(-90 422.9 75.1)" stroke="#000" stroke-width="0.15">Normalized to Mode</text>
<text x="497.4" y="133.5" font-size="8.3" font-weight="bold" text-anchor="middle" fill="#000">Dextran – Texas Red</text>
<rect x="527.2" y="81.0" width="7.6" height="8.8" fill="#fff" stroke="#9EF" stroke-width="1.0"/>
<text x="537.0" y="88.0" font-size="6.1" font-weight="normal" text-anchor="start" fill="#111" stroke="#111" stroke-width="0.12">Unstained</text>
<rect x="527.2" y="93.6" width="7.6" height="8.8" fill="#F22020" stroke="#c33" stroke-width="0.5"/>
<text x="537.0" y="100.6" font-size="6.1" font-weight="normal" text-anchor="start" fill="#111" stroke="#111" stroke-width="0.12">MN-SF</text>
<rect x="527.2" y="105.3" width="7.6" height="8.8" fill="#2E1CFF" stroke="#33c" stroke-width="0.5"/>
<text x="537.0" y="112.3" font-size="6.1" font-weight="normal" text-anchor="start" fill="#111" stroke="#111" stroke-width="0.12">WN-SF</text>
<text x="410.3" y="165.5" font-size="15.8" font-weight="bold" text-anchor="start" fill="#000" textLength="5.63" lengthAdjust="spacingAndGlyphs">f</text>
<rect x="431.6" y="180.2" width="139.0" height="94.40000000000003" fill="none" stroke="#999" stroke-width="0.8"/>
<line x1="431.6" y1="180.2" x2="431.6" y2="274.6" stroke="#666" stroke-width="0.8"/>
<line x1="431.6" y1="274.6" x2="570.6" y2="274.6" stroke="#444" stroke-width="0.9"/>
<text x="429.0" y="186.79999999999998" font-size="3.2" font-weight="bold" text-anchor="end" fill="#444">100</text>
<line x1="429.6" y1="185.2" x2="431.6" y2="185.2" stroke="#555" stroke-width="0.6"/>
<text x="429.0" y="204.6" font-size="3.2" font-weight="bold" text-anchor="end" fill="#444">80</text>
<line x1="429.6" y1="203.0" x2="431.6" y2="203.0" stroke="#555" stroke-width="0.6"/>
<text x="429.0" y="222.39999999999998" font-size="3.2" font-weight="bold" text-anchor="end" fill="#444">60</text>
<line x1="429.6" y1="220.79999999999998" x2="431.6" y2="220.79999999999998" stroke="#555" stroke-width="0.6"/>
<text x="429.0" y="240.2" font-size="3.2" font-weight="bold" text-anchor="end" fill="#444">40</text>
<line x1="429.6" y1="238.6" x2="431.6" y2="238.6" stroke="#555" stroke-width="0.6"/>
<text x="429.0" y="258.0" font-size="3.2" font-weight="bold" text-anchor="end" fill="#444">20</text>
<line x1="429.6" y1="256.4" x2="431.6" y2="256.4" stroke="#555" stroke-width="0.6"/>
<text x="429.0" y="275.8" font-size="3.2" font-weight="bold" text-anchor="end" fill="#444">0</text>
<line x1="429.6" y1="274.2" x2="431.6" y2="274.2" stroke="#555" stroke-width="0.6"/>
<line x1="430.6" y1="185.2" x2="431.6" y2="185.2" stroke="#555" stroke-width="0.5"/>
<line x1="430.6" y1="189.64999999999998" x2="431.6" y2="189.64999999999998" stroke="#555" stroke-width="0.5"/>
<line x1="430.6" y1="194.1" x2="431.6" y2="194.1" stroke="#555" stroke-width="0.5"/>
<line x1="430.6" y1="198.54999999999998" x2="431.6" y2="198.54999999999998" stroke="#555" stroke-width="0.5"/>
<line x1="430.6" y1="203.0" x2="431.6" y2="203.0" stroke="#555" stroke-width="0.5"/>
<line x1="430.6" y1="207.45" x2="431.6" y2="207.45" stroke="#555" stroke-width="0.5"/>
<line x1="430.6" y1="211.89999999999998" x2="431.6" y2="211.89999999999998" stroke="#555" stroke-width="0.5"/>
<line x1="430.6" y1="216.35" x2="431.6" y2="216.35" stroke="#555" stroke-width="0.5"/>
<line x1="430.6" y1="220.79999999999998" x2="431.6" y2="220.79999999999998" stroke="#555" stroke-width="0.5"/>
<line x1="430.6" y1="225.25" x2="431.6" y2="225.25" stroke="#555" stroke-width="0.5"/>
<line x1="430.6" y1="229.7" x2="431.6" y2="229.7" stroke="#555" stroke-width="0.5"/>
<line x1="430.6" y1="234.14999999999998" x2="431.6" y2="234.14999999999998" stroke="#555" stroke-width="0.5"/>
<line x1="430.6" y1="238.6" x2="431.6" y2="238.6" stroke="#555" stroke-width="0.5"/>
<line x1="430.6" y1="243.04999999999998" x2="431.6" y2="243.04999999999998" stroke="#555" stroke-width="0.5"/>
<line x1="430.6" y1="247.5" x2="431.6" y2="247.5" stroke="#555" stroke-width="0.5"/>
<line x1="430.6" y1="251.95" x2="431.6" y2="251.95" stroke="#555" stroke-width="0.5"/>
<line x1="430.6" y1="256.4" x2="431.6" y2="256.4" stroke="#555" stroke-width="0.5"/>
<line x1="430.6" y1="260.85" x2="431.6" y2="260.85" stroke="#555" stroke-width="0.5"/>
<line x1="430.6" y1="265.29999999999995" x2="431.6" y2="265.29999999999995" stroke="#555" stroke-width="0.5"/>
<line x1="430.6" y1="269.75" x2="431.6" y2="269.75" stroke="#555" stroke-width="0.5"/>
<line x1="430.6" y1="274.2" x2="431.6" y2="274.2" stroke="#555" stroke-width="0.5"/>
<text x="486.3" y="178.8" font-size="8.3" font-weight="bold" text-anchor="start" fill="#000">Spleen</text>
<polygon points="431.80,274.60 431.80,184.30 434.20,184.10 434.80,192.00 435.30,203.00 436.00,215.00 437.00,228.00 438.30,240.00 439.80,250.00 442.30,260.00 444.80,265.00 447.30,268.00 449.80,270.00 452.50,271.50 456.00,272.50 462.00,273.60 465.00,274.60" fill="#2A1EF0" />
<polygon points="431.80,274.60 431.80,184.30 433.80,184.10 434.30,192.00 434.80,202.00 435.30,212.00 435.90,225.00 436.40,240.00 437.30,250.00 439.20,260.00 441.60,265.00 445.20,268.50 450.00,270.00 453.00,271.40 456.00,271.20 459.00,271.40 461.50,272.30 463.80,274.20 464.00,274.60" fill="#C4202A" />
<polygon points="450,270.4 453,271.2 456,271.0 459,271.3 461.5,272.3 463.8,274.2 450,274.2" fill="#E82A2A"/>
<polyline points="434.00,184.40 434.60,192.00 435.10,203.00 435.70,215.00 436.30,228.00 437.00,240.00 438.00,250.00 440.20,260.00 442.70,265.00 446.00,268.60 450.00,270.60 456.00,272.60 462.00,273.80" fill="none" stroke="#8CCFD0" stroke-width="0.8"/>
<line x1="449.1" y1="217.2" x2="475.7" y2="217.2" stroke="#555" stroke-width="0.9"/>
<line x1="449.1" y1="215.1" x2="449.1" y2="219.4" stroke="#444" stroke-width="1.0"/>
<line x1="475.7" y1="215.1" x2="475.7" y2="219.4" stroke="#444" stroke-width="1.0"/>
<line x1="431.6" y1="274.8" x2="570.6" y2="274.8" stroke="#8aa" stroke-width="0.9"/>
<text x="434.5" y="279.8" font-size="2.8" font-weight="bold" text-anchor="middle" fill="#444">0</text>
<line x1="464.8" y1="274.8" x2="464.8" y2="276.3" stroke="#444" stroke-width="0.6"/>
<text x="465.3" y="280.7" font-size="2.8" font-weight="bold" text-anchor="middle" fill="#444">10</text>
<text x="466.90000000000003" y="278.90000000000003" font-size="1.9" font-weight="bold" text-anchor="start" fill="#444">3</text>
<line x1="467.03000000000003" y1="274.8" x2="467.03000000000003" y2="275.6" stroke="#777" stroke-width="0.4"/>
<line x1="469.26" y1="274.8" x2="469.26" y2="275.6" stroke="#777" stroke-width="0.4"/>
<line x1="471.49" y1="274.8" x2="471.49" y2="275.6" stroke="#777" stroke-width="0.4"/>
<line x1="473.71999999999997" y1="274.8" x2="473.71999999999997" y2="275.6" stroke="#777" stroke-width="0.4"/>
<line x1="475.95" y1="274.8" x2="475.95" y2="276.3" stroke="#444" stroke-width="0.6"/>
<text x="476.45" y="280.7" font-size="2.8" font-weight="bold" text-anchor="middle" fill="#444">10</text>
<text x="478.05" y="278.90000000000003" font-size="1.9" font-weight="bold" text-anchor="start" fill="#444">4</text>
<line x1="478.18" y1="274.8" x2="478.18" y2="275.6" stroke="#777" stroke-width="0.4"/>
<line x1="480.40999999999997" y1="274.8" x2="480.40999999999997" y2="275.6" stroke="#777" stroke-width="0.4"/>
<line x1="482.64" y1="274.8" x2="482.64" y2="275.6" stroke="#777" stroke-width="0.4"/>
<line x1="484.86999999999995" y1="274.8" x2="484.86999999999995" y2="275.6" stroke="#777" stroke-width="0.4"/>
<line x1="487.1" y1="274.8" x2="487.1" y2="276.3" stroke="#444" stroke-width="0.6"/>
<text x="487.6" y="280.7" font-size="2.8" font-weight="bold" text-anchor="middle" fill="#444">10</text>
<text x="489.20000000000005" y="278.90000000000003" font-size="1.9" font-weight="bold" text-anchor="start" fill="#444">5</text>
<line x1="489.33000000000004" y1="274.8" x2="489.33000000000004" y2="275.6" stroke="#777" stroke-width="0.4"/>
<line x1="491.56" y1="274.8" x2="491.56" y2="275.6" stroke="#777" stroke-width="0.4"/>
<line x1="493.79" y1="274.8" x2="493.79" y2="275.6" stroke="#777" stroke-width="0.4"/>
<line x1="496.02" y1="274.8" x2="496.02" y2="275.6" stroke="#777" stroke-width="0.4"/>
<line x1="498.25" y1="274.8" x2="498.25" y2="276.3" stroke="#444" stroke-width="0.6"/>
<text x="498.75" y="280.7" font-size="2.8" font-weight="bold" text-anchor="middle" fill="#444">10</text>
<text x="500.35" y="278.90000000000003" font-size="1.9" font-weight="bold" text-anchor="start" fill="#444">6</text>
<line x1="500.48" y1="274.8" x2="500.48" y2="275.6" stroke="#777" stroke-width="0.4"/>
<line x1="502.71" y1="274.8" x2="502.71" y2="275.6" stroke="#777" stroke-width="0.4"/>
<line x1="504.94" y1="274.8" x2="504.94" y2="275.6" stroke="#777" stroke-width="0.4"/>
<line x1="507.16999999999996" y1="274.8" x2="507.16999999999996" y2="275.6" stroke="#777" stroke-width="0.4"/>
<line x1="509.40000000000003" y1="274.8" x2="509.40000000000003" y2="276.3" stroke="#444" stroke-width="0.6"/>
<text x="509.90000000000003" y="280.7" font-size="2.8" font-weight="bold" text-anchor="middle" fill="#444">10</text>
<text x="511.50000000000006" y="278.90000000000003" font-size="1.9" font-weight="bold" text-anchor="start" fill="#444">7</text>
<line x1="511.63000000000005" y1="274.8" x2="511.63000000000005" y2="275.6" stroke="#777" stroke-width="0.4"/>
<line x1="513.86" y1="274.8" x2="513.86" y2="275.6" stroke="#777" stroke-width="0.4"/>
<line x1="516.09" y1="274.8" x2="516.09" y2="275.6" stroke="#777" stroke-width="0.4"/>
<line x1="518.32" y1="274.8" x2="518.32" y2="275.6" stroke="#777" stroke-width="0.4"/>
<line x1="520.55" y1="274.8" x2="520.55" y2="276.3" stroke="#444" stroke-width="0.6"/>
<text x="521.05" y="280.7" font-size="2.8" font-weight="bold" text-anchor="middle" fill="#444">10</text>
<text x="522.65" y="278.90000000000003" font-size="1.9" font-weight="bold" text-anchor="start" fill="#444">8</text>
<line x1="522.78" y1="274.8" x2="522.78" y2="275.6" stroke="#777" stroke-width="0.4"/>
<line x1="525.01" y1="274.8" x2="525.01" y2="275.6" stroke="#777" stroke-width="0.4"/>
<line x1="527.2399999999999" y1="274.8" x2="527.2399999999999" y2="275.6" stroke="#777" stroke-width="0.4"/>
<line x1="529.4699999999999" y1="274.8" x2="529.4699999999999" y2="275.6" stroke="#777" stroke-width="0.4"/>
<line x1="531.7" y1="274.8" x2="531.7" y2="276.3" stroke="#444" stroke-width="0.6"/>
<text x="532.2" y="280.7" font-size="2.8" font-weight="bold" text-anchor="middle" fill="#444">10</text>
<text x="533.8000000000001" y="278.90000000000003" font-size="1.9" font-weight="bold" text-anchor="start" fill="#444">9</text>
<line x1="533.9300000000001" y1="274.8" x2="533.9300000000001" y2="275.6" stroke="#777" stroke-width="0.4"/>
<line x1="536.1600000000001" y1="274.8" x2="536.1600000000001" y2="275.6" stroke="#777" stroke-width="0.4"/>
<line x1="538.39" y1="274.8" x2="538.39" y2="275.6" stroke="#777" stroke-width="0.4"/>
<line x1="540.62" y1="274.8" x2="540.62" y2="275.6" stroke="#777" stroke-width="0.4"/>
<line x1="542.85" y1="274.8" x2="542.85" y2="276.3" stroke="#444" stroke-width="0.6"/>
<text x="543.35" y="280.7" font-size="2.8" font-weight="bold" text-anchor="middle" fill="#444">10</text>
<text x="544.95" y="278.90000000000003" font-size="1.9" font-weight="bold" text-anchor="start" fill="#444">10</text>
<line x1="545.08" y1="274.8" x2="545.08" y2="275.6" stroke="#777" stroke-width="0.4"/>
<line x1="547.3100000000001" y1="274.8" x2="547.3100000000001" y2="275.6" stroke="#777" stroke-width="0.4"/>
<line x1="549.54" y1="274.8" x2="549.54" y2="275.6" stroke="#777" stroke-width="0.4"/>
<line x1="551.77" y1="274.8" x2="551.77" y2="275.6" stroke="#777" stroke-width="0.4"/>
<line x1="554.0" y1="274.8" x2="554.0" y2="276.3" stroke="#444" stroke-width="0.6"/>
<text x="554.5" y="280.7" font-size="2.8" font-weight="bold" text-anchor="middle" fill="#444">10</text>
<text x="556.1" y="278.90000000000003" font-size="1.9" font-weight="bold" text-anchor="start" fill="#444">11</text>
<line x1="556.23" y1="274.8" x2="556.23" y2="275.6" stroke="#777" stroke-width="0.4"/>
<line x1="558.46" y1="274.8" x2="558.46" y2="275.6" stroke="#777" stroke-width="0.4"/>
<line x1="560.6899999999999" y1="274.8" x2="560.6899999999999" y2="275.6" stroke="#777" stroke-width="0.4"/>
<line x1="562.92" y1="274.8" x2="562.92" y2="275.6" stroke="#777" stroke-width="0.4"/>
<line x1="565.15" y1="274.8" x2="565.15" y2="276.3" stroke="#444" stroke-width="0.6"/>
<text x="565.65" y="280.7" font-size="2.8" font-weight="bold" text-anchor="middle" fill="#444">10</text>
<text x="567.25" y="278.90000000000003" font-size="1.9" font-weight="bold" text-anchor="start" fill="#444">12</text>
<text x="421.3" y="228.0" font-size="8.3" font-weight="bold" text-anchor="middle" fill="#000" transform="rotate(-90 421.3 228.0)" stroke="#000" stroke-width="0.15">Normalized to Mode</text>
<text x="496.4" y="288.0" font-size="8.3" font-weight="bold" text-anchor="middle" fill="#000">Dextran – Texas Red</text>
<rect x="527.0" y="236.2" width="7.6" height="8.8" fill="#fff" stroke="#9EF" stroke-width="1.0"/>
<text x="536.8" y="243.2" font-size="6.1" font-weight="normal" text-anchor="start" fill="#111" stroke="#111" stroke-width="0.12">Unstained</text>
<rect x="527.0" y="248.79999999999998" width="7.6" height="8.8" fill="#F22020" stroke="#c33" stroke-width="0.5"/>
<text x="536.8" y="255.79999999999998" font-size="6.1" font-weight="normal" text-anchor="start" fill="#111" stroke="#111" stroke-width="0.12">MN-SF</text>
<rect x="527.0" y="260.5" width="7.6" height="8.8" fill="#2E1CFF" stroke="#33c" stroke-width="0.5"/>
<text x="536.8" y="267.5" font-size="6.1" font-weight="normal" text-anchor="start" fill="#111" stroke="#111" stroke-width="0.12">WN-SF</text>
<text x="642.3" y="22.4" font-size="8.3" font-weight="bold" text-anchor="middle" fill="#000">Lymph nodes</text>
<line x1="614.3" y1="38.5" x2="614.3" y2="116.5" stroke="#111" stroke-width="1.05"/>
<line x1="610.0999999999999" y1="116.5" x2="614.3" y2="116.5" stroke="#111" stroke-width="1.0"/>
<text x="609.3" y="118.7" font-size="6.4" font-weight="bold" text-anchor="end" fill="#000" stroke="#000" stroke-width="0.18">0</text>
<line x1="610.0999999999999" y1="97.0" x2="614.3" y2="97.0" stroke="#111" stroke-width="1.0"/>
<text x="609.3" y="99.2" font-size="6.4" font-weight="bold" text-anchor="end" fill="#000" stroke="#000" stroke-width="0.18" textLength="6.9" lengthAdjust="spacingAndGlyphs">20</text>
<line x1="610.0999999999999" y1="77.5" x2="614.3" y2="77.5" stroke="#111" stroke-width="1.0"/>
<text x="609.3" y="79.7" font-size="6.4" font-weight="bold" text-anchor="end" fill="#000" stroke="#000" stroke-width="0.18" textLength="6.9" lengthAdjust="spacingAndGlyphs">40</text>
<line x1="610.0999999999999" y1="58.0" x2="614.3" y2="58.0" stroke="#111" stroke-width="1.0"/>
<text x="609.3" y="60.2" font-size="6.4" font-weight="bold" text-anchor="end" fill="#000" stroke="#000" stroke-width="0.18" textLength="6.9" lengthAdjust="spacingAndGlyphs">60</text>
<line x1="610.0999999999999" y1="38.5" x2="614.3" y2="38.5" stroke="#111" stroke-width="1.0"/>
<text x="609.3" y="40.7" font-size="6.4" font-weight="bold" text-anchor="end" fill="#000" stroke="#000" stroke-width="0.18" textLength="6.9" lengthAdjust="spacingAndGlyphs">80</text>
<line x1="613.8" y1="116.5" x2="685" y2="116.5" stroke="#111" stroke-width="1.05"/>
<text x="597.0" y="74.6" font-size="7.1" font-weight="bold" text-anchor="middle" fill="#000" transform="rotate(-90 597.0 74.6)" stroke="#000" stroke-width="0.15">% Dextran - Texas Red</text>
<line x1="634.2" y1="116.5" x2="634.2" y2="119.6" stroke="#111" stroke-width="1.0"/>
<text x="634.2" y="127.0" font-size="6.4" font-weight="bold" text-anchor="middle" fill="#000">WN-SF</text>
<line x1="664.3" y1="116.5" x2="664.3" y2="119.6" stroke="#111" stroke-width="1.0"/>
<text x="664.3" y="127.0" font-size="6.4" font-weight="bold" text-anchor="middle" fill="#000">MN-SF</text>
<rect x="624.6" y="79.8" width="19.0" height="36.7" fill="#fff" stroke="#1e1e1e" stroke-width="1.0"/>
<circle cx="634.3" cy="56" r="2.5" fill="#0E0E88" stroke="#222" stroke-width="0.6"/>
<circle cx="626.4" cy="72.2" r="2.5" fill="#0E0E88" stroke="#222" stroke-width="0.6"/>
<circle cx="626.4" cy="77.3" r="2.5" fill="#0E0E88" stroke="#222" stroke-width="0.6"/>
<circle cx="642.3" cy="73.4" r="2.5" fill="#0E0E88" stroke="#222" stroke-width="0.6"/>
<circle cx="642.3" cy="80.9" r="2.5" fill="#0E0E88" stroke="#222" stroke-width="0.6"/>
<circle cx="634.3" cy="79.7" r="2.5" fill="#0E0E88" stroke="#222" stroke-width="0.6"/>
<circle cx="634.3" cy="85.5" r="2.5" fill="#0E0E88" stroke="#222" stroke-width="0.6"/>
<circle cx="634.3" cy="96.4" r="2.5" fill="#0E0E88" stroke="#222" stroke-width="0.6"/>
<circle cx="634.3" cy="114.5" r="2.5" fill="#0E0E88" stroke="#222" stroke-width="0.6"/>
<rect x="655.0" y="91.6" width="18.8" height="24.900000000000006" fill="#fff" stroke="#1e1e1e" stroke-width="1.0"/>
<circle cx="664.5" cy="75.5" r="2.5" fill="#F52A1A" stroke="#222" stroke-width="0.6"/>
<circle cx="656.6" cy="91.6" r="2.5" fill="#F52A1A" stroke="#222" stroke-width="0.6"/>
<circle cx="661.7" cy="94.1" r="2.5" fill="#F52A1A" stroke="#222" stroke-width="0.6"/>
<circle cx="667" cy="92.2" r="2.5" fill="#F52A1A" stroke="#222" stroke-width="0.6"/>
<circle cx="671.8" cy="93.5" r="2.5" fill="#F52A1A" stroke="#222" stroke-width="0.6"/>
<circle cx="664.5" cy="100.8" r="2.5" fill="#F52A1A" stroke="#222" stroke-width="0.6"/>
<circle cx="667" cy="111.6" r="2.5" fill="#F52A1A" stroke="#222" stroke-width="0.6"/>
<circle cx="661.7" cy="113.1" r="2.5" fill="#F52A1A" stroke="#222" stroke-width="0.6"/>
<line x1="633.9" y1="46.9" x2="664.8" y2="46.9" stroke="#888" stroke-width="1.4"/>
<line x1="649.20" y1="39.22" x2="649.20" y2="43.38" stroke="#111" stroke-width="1.25" stroke-linecap="round"/>
<line x1="647.40" y1="40.26" x2="651.00" y2="42.34" stroke="#111" stroke-width="1.25" stroke-linecap="round"/>
<line x1="647.40" y1="42.34" x2="651.00" y2="40.26" stroke="#111" stroke-width="1.25" stroke-linecap="round"/>
<text x="641.5" y="178.8" font-size="8.3" font-weight="bold" text-anchor="middle" fill="#000">Spleen</text>
<line x1="610.2" y1="191.2" x2="610.2" y2="268.5" stroke="#111" stroke-width="1.05"/>
<line x1="606.8000000000001" y1="268.5" x2="610.2" y2="268.5" stroke="#111" stroke-width="1.0"/>
<text x="605.8" y="270.7" font-size="6.4" font-weight="bold" text-anchor="end" fill="#000" stroke="#000" stroke-width="0.18">0</text>
<line x1="606.8000000000001" y1="253.04" x2="610.2" y2="253.04" stroke="#111" stroke-width="1.0"/>
<text x="605.8" y="255.23999999999998" font-size="6.4" font-weight="bold" text-anchor="end" fill="#000" stroke="#000" stroke-width="0.18">1</text>
<line x1="606.8000000000001" y1="237.57999999999998" x2="610.2" y2="237.57999999999998" stroke="#111" stroke-width="1.0"/>
<text x="605.8" y="239.77999999999997" font-size="6.4" font-weight="bold" text-anchor="end" fill="#000" stroke="#000" stroke-width="0.18">2</text>
<line x1="606.8000000000001" y1="222.12" x2="610.2" y2="222.12" stroke="#111" stroke-width="1.0"/>
<text x="605.8" y="224.32" font-size="6.4" font-weight="bold" text-anchor="end" fill="#000" stroke="#000" stroke-width="0.18">3</text>
<line x1="606.8000000000001" y1="206.66" x2="610.2" y2="206.66" stroke="#111" stroke-width="1.0"/>
<text x="605.8" y="208.85999999999999" font-size="6.4" font-weight="bold" text-anchor="end" fill="#000" stroke="#000" stroke-width="0.18">4</text>
<line x1="606.8000000000001" y1="191.2" x2="610.2" y2="191.2" stroke="#111" stroke-width="1.0"/>
<text x="605.8" y="193.39999999999998" font-size="6.4" font-weight="bold" text-anchor="end" fill="#000" stroke="#000" stroke-width="0.18">5</text>
<line x1="609.7" y1="268.5" x2="678.8" y2="268.5" stroke="#111" stroke-width="1.05"/>
<text x="597.0" y="227.9" font-size="7.3" font-weight="bold" text-anchor="middle" fill="#000" transform="rotate(-90 597.0 227.9)" stroke="#000" stroke-width="0.15">% Dextran - Texas Red</text>
<line x1="629.5" y1="268.5" x2="629.5" y2="271.8" stroke="#111" stroke-width="1.0"/>
<text x="629.5" y="279.2" font-size="6.4" font-weight="bold" text-anchor="middle" fill="#000">WN-SF</text>
<line x1="659.5" y1="268.5" x2="659.5" y2="271.8" stroke="#111" stroke-width="1.0"/>
<text x="659.5" y="279.2" font-size="6.4" font-weight="bold" text-anchor="middle" fill="#000">MN-SF</text>
<rect x="619.9" y="243.6" width="19.6" height="24.900000000000006" fill="#fff" stroke="#1e1e1e" stroke-width="1.0"/>
<circle cx="627.3" cy="231.4" r="2.5" fill="#0E0E88" stroke="#222" stroke-width="0.6"/>
<circle cx="627.3" cy="236.6" r="2.5" fill="#0E0E88" stroke="#222" stroke-width="0.6"/>
<circle cx="632.1" cy="235.9" r="2.5" fill="#0E0E88" stroke="#222" stroke-width="0.6"/>
<circle cx="621.7" cy="243.5" r="2.5" fill="#0E0E88" stroke="#222" stroke-width="0.6"/>
<circle cx="632.1" cy="242.7" r="2.5" fill="#0E0E88" stroke="#222" stroke-width="0.6"/>
<circle cx="637.3" cy="242.1" r="2.5" fill="#0E0E88" stroke="#222" stroke-width="0.6"/>
<circle cx="627.3" cy="246.8" r="2.5" fill="#0E0E88" stroke="#222" stroke-width="0.6"/>
<circle cx="621.7" cy="249.9" r="2.5" fill="#0E0E88" stroke="#222" stroke-width="0.6"/>
<circle cx="632.1" cy="249.4" r="2.5" fill="#0E0E88" stroke="#222" stroke-width="0.6"/>
<circle cx="637.3" cy="247.8" r="2.5" fill="#0E0E88" stroke="#222" stroke-width="0.6"/>
<rect x="649.9" y="222.7" width="19.3" height="45.80000000000001" fill="#fff" stroke="#1e1e1e" stroke-width="1.0"/>
<circle cx="651.8" cy="203.3" r="2.5" fill="#F52A1A" stroke="#222" stroke-width="0.6"/>
<circle cx="659" cy="205.2" r="2.5" fill="#F52A1A" stroke="#222" stroke-width="0.6"/>
<circle cx="667" cy="203.7" r="2.5" fill="#F52A1A" stroke="#222" stroke-width="0.6"/>
<circle cx="659" cy="218.6" r="2.5" fill="#F52A1A" stroke="#222" stroke-width="0.6"/>
<circle cx="651.8" cy="222.8" r="2.5" fill="#F52A1A" stroke="#222" stroke-width="0.6"/>
<circle cx="659" cy="224.7" r="2.5" fill="#F52A1A" stroke="#222" stroke-width="0.6"/>
<circle cx="659" cy="230.4" r="2.5" fill="#F52A1A" stroke="#222" stroke-width="0.6"/>
<circle cx="667" cy="233.8" r="2.5" fill="#F52A1A" stroke="#222" stroke-width="0.6"/>
<circle cx="651.8" cy="237.6" r="2.5" fill="#F52A1A" stroke="#222" stroke-width="0.6"/>
<line x1="629.2" y1="193.8" x2="659.6" y2="193.8" stroke="#888" stroke-width="1.4"/>
<line x1="639.70" y1="186.38" x2="639.70" y2="190.23" stroke="#111" stroke-width="1.25" stroke-linecap="round"/>
<line x1="638.03" y1="187.34" x2="641.37" y2="189.26" stroke="#111" stroke-width="1.25" stroke-linecap="round"/>
<line x1="638.03" y1="189.26" x2="641.37" y2="187.34" stroke="#111" stroke-width="1.25" stroke-linecap="round"/>
<line x1="644.50" y1="186.38" x2="644.50" y2="190.23" stroke="#111" stroke-width="1.25" stroke-linecap="round"/>
<line x1="642.83" y1="187.34" x2="646.17" y2="189.26" stroke="#111" stroke-width="1.25" stroke-linecap="round"/>
<line x1="642.83" y1="189.26" x2="646.17" y2="187.34" stroke="#111" stroke-width="1.25" stroke-linecap="round"/>
<line x1="649.20" y1="186.38" x2="649.20" y2="190.23" stroke="#111" stroke-width="1.25" stroke-linecap="round"/>
<line x1="647.53" y1="187.34" x2="650.87" y2="189.26" stroke="#111" stroke-width="1.25" stroke-linecap="round"/>
<line x1="647.53" y1="189.26" x2="650.87" y2="187.34" stroke="#111" stroke-width="1.25" stroke-linecap="round"/>
<line x1="251.4" y1="68.5" x2="251.4" y2="109.5" stroke="#222" stroke-width="1.0"/>
<line x1="245.4" y1="68.5" x2="257.4" y2="68.5" stroke="#222" stroke-width="1.0"/>
<line x1="245.4" y1="109.5" x2="257.4" y2="109.5" stroke="#222" stroke-width="1.0"/>
<line x1="286.8" y1="50.1" x2="286.8" y2="102.6" stroke="#222" stroke-width="1.0"/>
<line x1="280.8" y1="50.1" x2="292.8" y2="50.1" stroke="#222" stroke-width="1.0"/>
<line x1="280.8" y1="102.6" x2="292.8" y2="102.6" stroke="#222" stroke-width="1.0"/>
<line x1="327.0" y1="52.5" x2="327.0" y2="90.2" stroke="#222" stroke-width="1.0"/>
<line x1="321.0" y1="90.2" x2="333.0" y2="90.2" stroke="#222" stroke-width="1.0"/>
<line x1="361.5" y1="41.2" x2="361.5" y2="67.8" stroke="#222" stroke-width="1.0"/>
<line x1="355.5" y1="41.2" x2="367.5" y2="41.2" stroke="#222" stroke-width="1.0"/>
<line x1="355.5" y1="67.8" x2="367.5" y2="67.8" stroke="#222" stroke-width="1.0"/>
<line x1="251.4" y1="218.4" x2="251.4" y2="260.4" stroke="#222" stroke-width="1.0"/>
<line x1="245.4" y1="218.4" x2="257.4" y2="218.4" stroke="#222" stroke-width="1.0"/>
<line x1="245.4" y1="260.4" x2="257.4" y2="260.4" stroke="#222" stroke-width="1.0"/>
<line x1="286.8" y1="219.5" x2="286.8" y2="256.4" stroke="#222" stroke-width="1.0"/>
<line x1="280.8" y1="219.5" x2="292.8" y2="219.5" stroke="#222" stroke-width="1.0"/>
<line x1="280.8" y1="256.4" x2="292.8" y2="256.4" stroke="#222" stroke-width="1.0"/>
<line x1="327.0" y1="213" x2="327.0" y2="257.4" stroke="#222" stroke-width="1.0"/>
<line x1="321.0" y1="213" x2="333.0" y2="213" stroke="#222" stroke-width="1.0"/>
<line x1="321.0" y1="257.4" x2="333.0" y2="257.4" stroke="#222" stroke-width="1.0"/>
<line x1="361.5" y1="205.3" x2="361.5" y2="233.5" stroke="#222" stroke-width="1.0"/>
<line x1="355.5" y1="205.3" x2="367.5" y2="205.3" stroke="#222" stroke-width="1.0"/>
<line x1="355.5" y1="233.5" x2="367.5" y2="233.5" stroke="#222" stroke-width="1.0"/>
<line x1="634.2" y1="73.4" x2="634.2" y2="90.3" stroke="#222" stroke-width="1.0"/>
<line x1="629.35" y1="73.4" x2="639.0500000000001" y2="73.4" stroke="#222" stroke-width="1.0"/>
<line x1="629.35" y1="90.3" x2="639.0500000000001" y2="90.3" stroke="#222" stroke-width="1.0"/>
<line x1="664.3" y1="93" x2="664.3" y2="109.3" stroke="#222" stroke-width="1.0"/>
<line x1="659.05" y1="109.3" x2="669.55" y2="109.3" stroke="#222" stroke-width="1.0"/>
<line x1="629.5" y1="238.5" x2="629.5" y2="249.0" stroke="#222" stroke-width="1.0"/>
<line x1="625.25" y1="238.5" x2="633.75" y2="238.5" stroke="#222" stroke-width="1.0"/>
<line x1="625.25" y1="249.0" x2="633.75" y2="249.0" stroke="#222" stroke-width="1.0"/>
<line x1="659.4" y1="205" x2="659.4" y2="231.5" stroke="#222" stroke-width="1.0"/>
<line x1="654.65" y1="205" x2="664.15" y2="205" stroke="#222" stroke-width="1.0"/>
<line x1="654.65" y1="231.5" x2="664.15" y2="231.5" stroke="#222" stroke-width="1.0"/>
</svg>
</body></html>
